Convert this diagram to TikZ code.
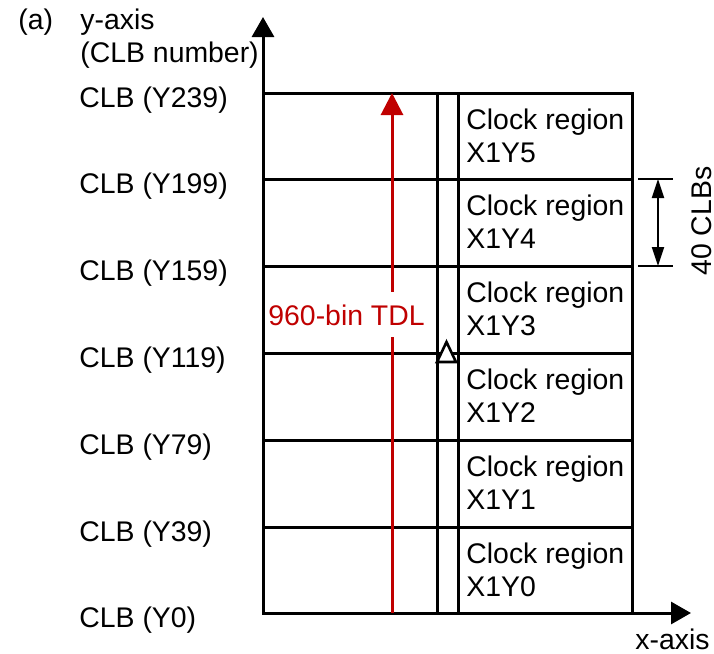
\documentclass[tikz,border=0pt]{standalone}
\usepackage{fontspec}
\setmainfont{Liberation Sans}
\usetikzlibrary{arrows.meta}
\definecolor{tdlred}{RGB}{192,0,0}
\begin{document}
\begin{tikzpicture}[x=0.5pt,y=-0.5pt,
  lbl/.style={anchor=base west, inner sep=0pt, font=\fontsize{14.2}{17}\selectfont},
  gridline/.style={line width=1.5pt, line cap=rect},
  axis/.style={line width=1.5pt, -{Triangle[length=10pt,width=11pt]}},
  tdl/.style={line width=1.5pt, draw=tdlred, -{Triangle[length=11pt,width=11pt]}},
  span/.style={line width=1pt, {Triangle[length=9.5pt,width=6pt]}-{Triangle[length=9.5pt,width=6pt]}},
  tick/.style={line width=1pt}
  ]
\useasboundingbox (0,0) rectangle (714,654);

% axes end points
\coordinate (O) at (263,613);
\coordinate (ytip) at (263,17);
\coordinate (xtip) at (691,613);

% row boundaries, left and right ends
\foreach \i/\y in {0/613,1/527,2/440,3/353,4/266,5/179,6/93}{
  \coordinate (L\i) at (263,\y);
  \coordinate (R\i) at (632,\y);
}

% clock region grid
\draw[gridline] (L6) rectangle (R0);
\foreach \i in {1,...,5}{ \draw[gridline] (L\i) -- (R\i); }

% double routing column
\coordinate (c1t) at (437,93);  \coordinate (c1b) at (437,613);
\coordinate (c2t) at (458,93);  \coordinate (c2b) at (458,613);
\draw[gridline] (c1t) -- (c1b);
\draw[gridline] (c2t) -- (c2b);

% axes
\draw[axis] (O) -- (ytip);
\draw[axis] (O) -- (xtip);

% delay line arrow and its label
\coordinate (tdlbot) at (392,613);
\coordinate (tdltop) at (392,93);
\draw[tdl] (tdlbot) -- (tdltop);
\node[lbl, fill=white, inner xsep=1pt, inner ysep=6pt, text=tdlred] (tdlname) at (266,325) {960-bin TDL};

% start marker on the column
\draw[line width=1.3pt, fill=white] (446.5,342) -- (456,362) -- (437,362) -- cycle;

% axis captions
\node[lbl] (panel) at (18,29) {(a)};
\node[lbl] (ycap1) at (80,29) {y-axis};
\node[lbl] (ycap2) at (80,62) {(CLB number)};
\node[lbl] (xcap) at (635,649) {x-axis};

% CLB row labels
\foreach \i/\y/\n in {0/613/Y0,1/527/Y39,2/440/Y79,3/353/Y119,4/266/Y159,5/179/Y199,6/93/Y239}{
  \node[lbl] (clb\i) at (79,\y+14) {CLB (\n)};
}

% clock region labels
\foreach \k/\t in {0/527,1/440,2/353,3/266,4/179,5/93}{
  \node[lbl] (cr\k a) at (466,\t+36) {Clock region};
  \node[lbl] (cr\k b) at (466,\t+69) {X1Y\k};
}

% height of one clock region
\coordinate (s1l) at (638,179); \coordinate (s1r) at (673,179);
\coordinate (s2l) at (638,266); \coordinate (s2r) at (673,266);
\draw[tick] (s1l) -- (s1r);
\draw[tick] (s2l) -- (s2r);
\coordinate (sa) at (658,179); \coordinate (sb) at (658,266);
\draw[span] (sa) -- (sb);
\node[inner sep=0pt, anchor=base, rotate=90, font=\fontsize{14.2}{17}\selectfont] (clbs) at (711,221) {40 CLBs};
\end{tikzpicture}
\end{document}
